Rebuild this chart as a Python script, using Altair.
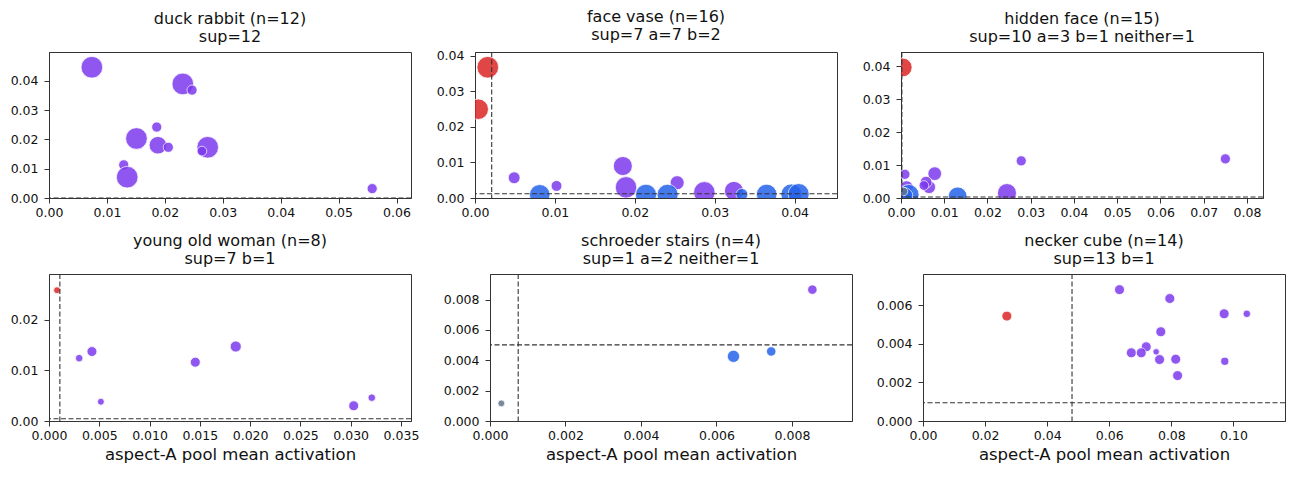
import altair as alt
import pandas as pd

FONT = "DejaVu Sans"

panel_names = ["duck rabbit", "face vase", "hidden face",
               "young old woman", "schroeder stairs", "necker cube"]
panel_counts = ["sup=12", "sup=7  a=7  b=2", "sup=10  a=3  b=1  neither=1",
                "sup=7  b=1", "sup=1  a=2  neither=1", "sup=13  b=1"]

# ---- point data per panel ----
duck_x = [0.0074, 0.0231, 0.0247, 0.0186, 0.0151, 0.0188, 0.0206, 0.0274, 0.0264, 0.0129, 0.0135, 0.0558]
duck_y = [0.0446, 0.0389, 0.0368, 0.0242, 0.0203, 0.0180, 0.0173, 0.0173, 0.0160, 0.0113, 0.0071, 0.0032]
duck_c = ["sup"] * 12
duck_w = [1.0, 1.0, 0.22, 0.22, 1.0, 0.66, 0.22, 1.0, 0.2, 0.22, 1.0, 0.22]

vase_x = [0.0016, 0.0004, 0.0049, 0.0102, 0.0185, 0.0189, 0.0253, 0.0287, 0.0324,
          0.0081, 0.0214, 0.0241, 0.0334, 0.0365, 0.0396, 0.0405]
vase_y = [0.0368, 0.0250, 0.0057, 0.0034, 0.0090, 0.0030, 0.0043, 0.0016, 0.0020,
          0.0009, 0.0009, 0.0009, 0.0010, 0.0010, 0.0010, 0.0011]
vase_c = ["b", "b"] + ["sup"] * 7 + ["a"] * 7
vase_w = [1.0, 0.9, 0.3, 0.25, 0.77, 0.98, 0.42, 0.98, 0.77,
          0.9, 0.95, 0.95, 0.3, 0.9, 0.95, 0.95]

face_x = [0.0004, 0.0278, 0.0750, 0.0245, 0.0009, 0.0078, 0.0065, 0.0058, 0.0053, 0.0013, 0.0012,
          0.0131, 0.0018, 0.0008, 0.0006]
face_y = [0.0397, 0.0113, 0.0119, 0.0015, 0.0072, 0.0074, 0.0033, 0.0048, 0.0038, 0.0033, 0.0020,
          0.0005, 0.0010, 0.0006, 0.0020]
face_c = ["b"] + ["sup"] * 10 + ["a"] * 3 + ["neither"]
face_w = [0.75, 0.22, 0.22, 0.77, 0.22, 0.4, 0.35, 0.3, 0.2, 0.35, 0.3,
          0.75, 0.9, 0.6, 0.15]

woman_x = [0.0008, 0.0030, 0.00427, 0.00516, 0.01455, 0.01857, 0.0303, 0.0321]
woman_y = [0.0258, 0.0124, 0.0137, 0.0038, 0.0116, 0.0147, 0.0030, 0.0046]
woman_c = ["b"] + ["sup"] * 7
woman_w = [0.1, 0.12, 0.21, 0.1, 0.21, 0.26, 0.21, 0.12]

stairs_x = [0.0003, 0.00645, 0.00745, 0.00854]
stairs_y = [0.00116, 0.00426, 0.00458, 0.00865]
stairs_c = ["neither", "a", "a", "sup"]
stairs_w = [0.1, 0.32, 0.19, 0.19]

cube_x = [0.0270, 0.0633, 0.0795, 0.0970, 0.1043, 0.0766, 0.0719, 0.0751, 0.0671, 0.0703,
          0.0762, 0.0814, 0.0972, 0.0820]
cube_y = [0.00543, 0.00680, 0.00634, 0.00555, 0.00555, 0.00462, 0.00384, 0.00358, 0.00353, 0.00353,
          0.00318, 0.00320, 0.00309, 0.00235]
cube_c = ["b"] + ["sup"] * 13
cube_w = [0.21, 0.21, 0.21, 0.21, 0.12, 0.21, 0.21, 0.09, 0.21, 0.21, 0.21, 0.21, 0.14, 0.21]

x_vals = [duck_x, vase_x, face_x, woman_x, stairs_x, cube_x]
y_vals = [duck_y, vase_y, face_y, woman_y, stairs_y, cube_y]
c_vals = [duck_c, vase_c, face_c, woman_c, stairs_c, cube_c]
w_vals = [duck_w, vase_w, face_w, woman_w, stairs_w, cube_w]

# thresholds (dashed lines)
thr_x = [0.0, 0.00209, 0.0002, 0.00108, 0.000747, 0.0480]
thr_y = [0.0, 0.0012, 0.0003, 0.00045, 0.00501, 0.000947]

# axes
x_domains = [[0, 0.0625], [0, 0.0453], [0, 0.0837], [0, 0.0360], [0, 0.00959], [0, 0.1166]]
y_domains = [[0, 0.0498], [0, 0.0411], [0, 0.0444], [0, 0.0290], [0, 0.00968], [0, 0.00761]]
x_ticks = [[0.0, 0.01, 0.02, 0.03, 0.04, 0.05, 0.06],
           [0.0, 0.01, 0.02, 0.03, 0.04],
           [0.0, 0.01, 0.02, 0.03, 0.04, 0.05, 0.06, 0.07, 0.08],
           [0.0, 0.005, 0.01, 0.015, 0.02, 0.025, 0.03, 0.035],
           [0.0, 0.002, 0.004, 0.006, 0.008],
           [0.0, 0.02, 0.04, 0.06, 0.08, 0.10]]
y_ticks = [[0.0, 0.01, 0.02, 0.03, 0.04],
           [0.0, 0.01, 0.02, 0.03, 0.04],
           [0.0, 0.01, 0.02, 0.03, 0.04],
           [0.0, 0.01, 0.02],
           [0.0, 0.002, 0.004, 0.006, 0.008],
           [0.0, 0.002, 0.004, 0.006]]
x_fmt = [".2f", ".2f", ".2f", ".3f", ".3f", ".2f"]
y_fmt = [".2f", ".2f", ".2f", ".2f", ".3f", ".3f"]

cls_domain = ["sup", "a", "b", "neither"]
cls_colors = ["#7c3aed", "#2563eb", "#dc2626", "#64748b"]

X_TITLE = "aspect-A pool mean activation"


def panel(i):
    df = pd.DataFrame({"x": x_vals[i], "y": y_vals[i], "cls": c_vals[i], "w": w_vals[i]})
    xs = alt.Scale(domain=x_domains[i], nice=False, zero=False)
    ys = alt.Scale(domain=y_domains[i], nice=False, zero=False)
    xt = X_TITLE if i >= 3 else None
    xaxis = alt.Axis(values=x_ticks[i], format=x_fmt[i], title=xt)
    yaxis = alt.Axis(values=y_ticks[i], format=y_fmt[i], title=None)
    pts = alt.Chart(df).mark_circle(opacity=0.85, stroke="white", strokeWidth=0.8, clip=True).encode(
        x=alt.X("x:Q", scale=xs, axis=xaxis),
        y=alt.Y("y:Q", scale=ys, axis=yaxis),
        color=alt.Color("cls:N", scale=alt.Scale(domain=cls_domain, range=cls_colors), legend=None),
        size=alt.Size("w:Q", scale=alt.Scale(domain=[0, 1], range=[0, 470]), legend=None),
    )
    vr = alt.Chart(pd.DataFrame({"x": [thr_x[i]]})).mark_rule(
        strokeDash=[5, 2.5], color="#333333", strokeWidth=1.1, clip=True
    ).encode(x=alt.X("x:Q", scale=xs, axis=xaxis))
    hr = alt.Chart(pd.DataFrame({"y": [thr_y[i]]})).mark_rule(
        strokeDash=[5, 2.5], color="#333333", strokeWidth=1.1, clip=True
    ).encode(y=alt.Y("y:Q", scale=ys, axis=yaxis))
    n = len(x_vals[i])
    return alt.layer(pts, vr, hr).properties(
        width=362, height=146 if i < 3 else 147,
        title=alt.TitleParams(text=[f"{panel_names[i]} (n={n})", panel_counts[i]]),
    )


row1 = alt.hconcat(panel(0), panel(1), panel(2), spacing=22)
row2 = alt.hconcat(panel(3), panel(4), panel(5), spacing=22)

chart = alt.vconcat(row1, row2, spacing=13).properties(
    padding=0, background="white"
).configure(font=FONT).configure_view(
    stroke="#333333", strokeWidth=1
).configure_axis(
    domainColor="#333333", tickColor="#333333", labelColor="#111111", titleColor="#111111",
    labelFont=FONT, labelFontSize=12.5, titleFont=FONT, titleFontSize=16.5, titleFontWeight="normal",
    grid=False, tickSize=5, labelPadding=3, labelFlush=False, labelOverlap=False, titlePadding=5,
).configure_axisY(minExtent=40, maxExtent=40, labelPadding=6).configure_title(
    font=FONT, fontSize=16, fontWeight="normal", lineHeight=18, offset=7, anchor="middle", color="#111111"
)

chart.save("out.html", embed_options={"renderer": "svg", "actions": False})
